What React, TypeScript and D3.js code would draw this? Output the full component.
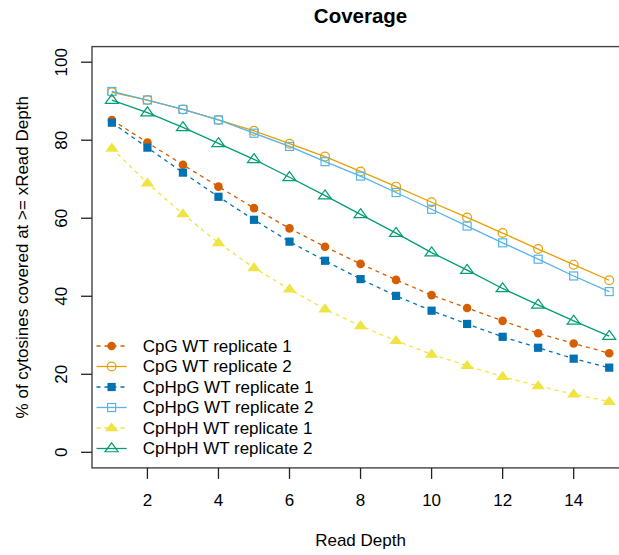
import * as d3 from 'd3';
import React from 'react';

const depths = [1, 2, 3, 4, 5, 6, 7, 8, 9, 10, 11, 12, 13, 14, 15];

const cpgRep1 = [85.2, 79.4, 73.7, 68.1, 62.6, 57.4, 52.7, 48.3, 44.2, 40.3, 37.0, 33.7, 30.5, 27.9, 25.4];
const cpgRep2 = [92.3, 90.3, 87.9, 85.2, 82.4, 79.1, 75.8, 72.0, 68.1, 64.1, 60.2, 56.2, 52.1, 48.1, 44.1];
const cphpgRep1 = [84.5, 78.1, 71.7, 65.5, 59.6, 54.0, 49.1, 44.4, 40.1, 36.3, 32.9, 29.6, 26.8, 24.0, 21.7];
const cphpgRep2 = [92.5, 90.3, 87.9, 85.2, 81.8, 78.4, 74.5, 70.8, 66.6, 62.3, 58.0, 53.7, 49.5, 45.2, 41.2];
const cphphRep1 = [77.9, 69.0, 61.1, 53.7, 47.3, 41.8, 36.7, 32.4, 28.6, 25.1, 22.2, 19.4, 17.0, 14.9, 13.0];
const cphphRep2 = [90.3, 87.1, 83.3, 79.2, 75.1, 70.5, 65.8, 61.0, 56.2, 51.2, 46.7, 42.0, 37.8, 33.7, 29.8];

const xTicks = [2, 4, 6, 8, 10, 12, 14];
const yTicks = [0, 20, 40, 60, 80, 100];

type Series = {
  name: string;
  values: number[];
  color: string;
  dashed: boolean;
  shape: 'circle' | 'square' | 'triangle';
  filled: boolean;
};

const series: Series[] = [
  { name: 'CpG WT replicate 1', values: cpgRep1, color: '#D55E00', dashed: true, shape: 'circle', filled: true },
  { name: 'CpG WT replicate 2', values: cpgRep2, color: '#E69F00', dashed: false, shape: 'circle', filled: false },
  { name: 'CpHpG WT replicate 1', values: cphpgRep1, color: '#0072B2', dashed: true, shape: 'square', filled: true },
  { name: 'CpHpG WT replicate 2', values: cphpgRep2, color: '#56B4E9', dashed: false, shape: 'square', filled: false },
  { name: 'CpHpH WT replicate 1', values: cphphRep1, color: '#F0E442', dashed: true, shape: 'triangle', filled: true },
  { name: 'CpHpH WT replicate 2', values: cphphRep2, color: '#009E73', dashed: false, shape: 'triangle', filled: false },
];

const font = '"Liberation Sans", Arial, sans-serif';

// R-style plotting symbols (pch 16/1, 15/0, 17/2)
const Marker: React.FC<{ s: Series; x: number; y: number }> = ({ s, x, y }) => {
  const fill = s.filled ? s.color : 'none';
  const stroke = s.filled ? 'none' : s.color;
  if (s.shape === 'circle') {
    return <circle cx={x} cy={y} r={s.filled ? 4.3 : 4.4} fill={fill} stroke={stroke} strokeWidth={1.2} />;
  }
  if (s.shape === 'square') {
    const h = s.filled ? 4.1 : 4.0;
    return <rect x={x - h} y={y - h} width={h * 2} height={h * 2} fill={fill} stroke={stroke} strokeWidth={1.2} />;
  }
  const r = s.filled ? 4.3 : 4.2;
  const pts = [
    [x, y - 1.3468 * r],
    [x + 1.5551 * r, y + 0.7776 * r],
    [x - 1.5551 * r, y + 0.7776 * r],
  ];
  return <polygon points={pts.map(p => p.join(',')).join(' ')} fill={fill} stroke={stroke} strokeWidth={1.2} />;
};

const App: React.FC = () => {
  const width = 619;
  const height = 555;
  const left = 92.0;
  const right = 629.1;
  const top = 46.6;
  const bottom = 467.9;

  const x = d3.scaleLinear().domain([0.44, 15.56]).range([left, right]);
  const y = d3.scaleLinear().domain([-4, 104]).range([bottom, top]);

  const line = d3.line<number>()
    .x((_, i) => x(depths[i]))
    .y(d => y(d));

  const legendRow = (i: number) => 346 + i * 20.5;

  return (
    <svg width={width} height={height} style={{ position: 'absolute', left: 0, top: 0, fontFamily: font }}>
      <rect width={width} height={height} fill="white" />
      <text x={(left + right) / 2} y={22.5} textAnchor="middle" fontSize={20.5} fontWeight="bold">Coverage</text>

      {series.map(s => (
        <g key={s.name}>
          <path d={line(s.values) ?? ''} fill="none" stroke={s.color} strokeWidth={1.3} strokeDasharray={s.dashed ? '4,4' : undefined} />
          {s.values.map((v, i) => (
            <Marker key={i} s={s} x={x(depths[i])} y={y(v)} />
          ))}
        </g>
      ))}

      <rect x={left} y={top} width={right - left} height={bottom - top} fill="none" stroke="#444" strokeWidth={1.4} />

      {xTicks.map(t => (
        <g key={t}>
          <line x1={x(t)} x2={x(t)} y1={bottom} y2={bottom + 11} stroke="#222" strokeWidth={1.3} />
          <text x={x(t)} y={506} textAnchor="middle" fontSize={17}>{t}</text>
        </g>
      ))}
      {yTicks.map(t => (
        <g key={t}>
          <line x1={left - 11} x2={left} y1={y(t)} y2={y(t)} stroke="#222" strokeWidth={1.3} />
          <text transform={`translate(66.7,${y(t)}) rotate(-90)`} textAnchor="middle" fontSize={17}>{t}</text>
        </g>
      ))}

      <text x={(left + right) / 2} y={546} textAnchor="middle" fontSize={17}>Read Depth</text>
      <text transform={`translate(28,${(top + bottom) / 2}) rotate(-90)`} textAnchor="middle" fontSize={17}>
        % of cytosines covered at &gt;= xRead Depth
      </text>

      {series.map((s, i) => (
        <g key={s.name}>
          <line x1={96.5} x2={126.7} y1={legendRow(i)} y2={legendRow(i)} stroke={s.color} strokeWidth={1.3} strokeDasharray={s.dashed ? '4,4' : undefined} />
          <Marker s={s} x={111.6} y={legendRow(i)} />
          <text x={142.7} y={legendRow(i)} dominantBaseline="central" fontSize={17}>{s.name}</text>
        </g>
      ))}
    </svg>
  );
};

export default App;
